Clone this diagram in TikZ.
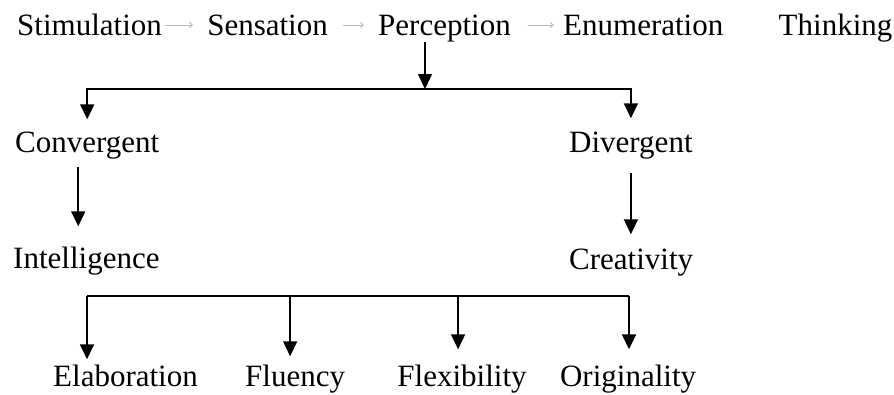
\documentclass[tikz,border=0pt]{standalone}
\usepackage{fontspec}
\setmainfont{Liberation Serif}
\usetikzlibrary{positioning, arrows.meta}

\begin{document}
\begin{tikzpicture}[x=1pt, y=-1pt,
    word/.style={inner sep=0pt, anchor=base west, font=\fontsize{31}{36}\selectfont},
    flow/.style={draw=gray!55, line width=0.9pt, -{Straight Barb[length=3pt,width=5pt]}},
    branch/.style={line width=1.6pt, -{Triangle[length=15pt,width=14pt]}},
    bar/.style={line width=1.6pt}]
   \useasboundingbox (0,0) rectangle (894,394);

   % top row
   \node[word] (stim) at (17,35) {Stimulation};
   \node[word] (sens) [base right=45pt of stim] {Sensation};
   \node[word] (perc) [base right=50pt of sens] {Perception};
   \node[word] (enum) [base right=52pt of perc] {Enumeration};
   \node[word] (think) [base right=55pt of enum] {Thinking};

   \draw[flow, shorten <=3pt, shorten >=14pt] ([yshift=10pt]stim.base east) -- ([yshift=10pt]sens.base west);
   \draw[flow, shorten <=15pt, shorten >=14pt] ([yshift=10pt]sens.base east) -- ([yshift=10pt]perc.base west);
   \draw[flow, shorten <=17pt, shorten >=9pt] ([yshift=10pt]perc.base east) -- ([yshift=10pt]enum.base west);

   % two kinds of thinking
   \node[word] (conv) at (15,152) {Convergent};
   \node[word] (div) at (569,152) {Divergent};
   \node[word] (intel) at (13,268) {Intelligence};
   \node[word] (crea) at (569,269) {Creativity};

   \coordinate (split) at (425,89);
   \draw[branch] (perc.south -| split) -- (split);
   \draw[branch, shorten >=12pt] (split) -| (conv.north);
   \draw[branch, shorten >=13pt] (split) -| (div.north);

   \draw[branch, shorten <=8pt, shorten >=20pt] ([xshift=-9pt]conv.south) -- ([xshift=-9pt]conv.south |- intel.north);
   \draw[branch, shorten <=14pt, shorten >=14pt] (div.south) -- (div.south |- crea.north);

   % bottom row
   \node[word] (elab) at (53,386) {Elaboration};
   \node[word] (flu) [base right=47pt of elab] {Fluency};
   \node[word] (flex) [base right=52pt of flu] {Flexibility};
   \node[word] (orig) [base right=33pt of flex] {Originality};

   \coordinate (bl) at (87,296);
   \coordinate (br) at (629,296);
   \draw[bar] (bl) -- (br);
   \draw[branch, shorten >=5pt] (bl) -- (bl |- elab.north);
   \draw[branch, shorten >=8pt] ([xshift=-5pt]flu.north |- bl) -- ([xshift=-5pt]flu.north);
   \draw[branch, shorten >=15pt] ([xshift=-4pt]flex.north |- bl) -- ([xshift=-4pt]flex.north);
   \draw[branch, shorten >=15pt] (br) -- (br |- orig.north);
\end{tikzpicture}
\end{document}
